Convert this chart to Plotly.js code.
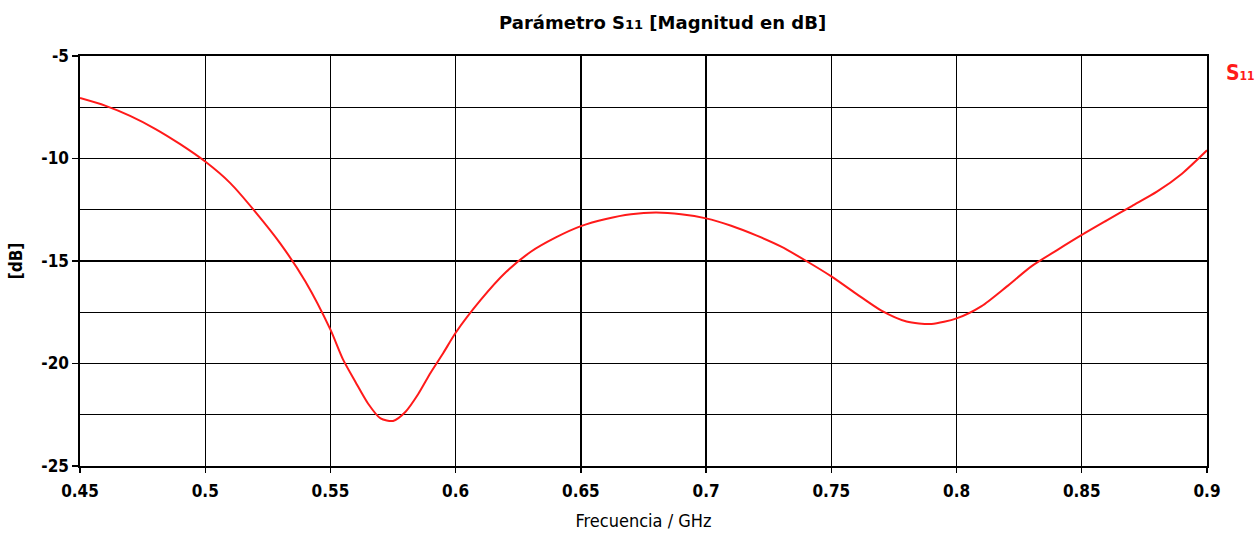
<!DOCTYPE html>
<html>
<head>
<meta charset="utf-8">
<script src="https://cdn.plot.ly/plotly-3.0.1.min.js"></script>
<style>html,body{margin:0;padding:0;background:#fff;}#chart{width:1258px;height:535px;}</style>
</head>
<body>
<div id="chart"></div>
<script>
// Frequency (GHz)
const freq = [0.45, 0.46, 0.47, 0.48, 0.49, 0.50, 0.51, 0.52, 0.53, 0.54, 0.55, 0.555, 0.56, 0.565, 0.57, 0.575, 0.58, 0.585, 0.59, 0.595, 0.60, 0.61, 0.62, 0.63, 0.64, 0.65, 0.66, 0.67, 0.68, 0.69, 0.70, 0.71, 0.72, 0.73, 0.74, 0.75, 0.76, 0.77, 0.78, 0.79, 0.80, 0.81, 0.82, 0.83, 0.84, 0.85, 0.86, 0.87, 0.88, 0.89, 0.90];
// S11 magnitude (dB)
const s11 = [-7.05, -7.42, -7.92, -8.55, -9.3, -10.15, -11.2, -12.6, -14.15, -16.0, -18.35, -19.8, -20.9, -21.95, -22.68, -22.8, -22.35, -21.5, -20.45, -19.5, -18.5, -16.9, -15.55, -14.55, -13.85, -13.3, -12.95, -12.72, -12.64, -12.72, -12.92, -13.28, -13.75, -14.3, -15.0, -15.75, -16.6, -17.42, -17.95, -18.07, -17.8, -17.2, -16.25, -15.25, -14.48, -13.73, -13.02, -12.32, -11.62, -10.74, -9.6];
const xTicks = [0.45, 0.5, 0.55, 0.6, 0.65, 0.7, 0.75, 0.8, 0.85, 0.9];
const xTickText = ['0.45', '0.5', '0.55', '0.6', '0.65', '0.7', '0.75', '0.8', '0.85', '0.9'];
const yTicks = [-25, -20, -15, -10, -5];
const yTickText = ['-25', '-20', '-15', '-10', '-5'];

const FONT = '"DejaVu Sans Condensed", "DejaVu Sans", sans-serif';
const TFONT = '"DejaVu Sans", sans-serif';
const GRID = '#000';

const trace = {
  x: freq, y: s11, type: 'scatter', mode: 'lines', name: 'S11',
  line: {color: '#ff1a1a', width: 2, shape: 'spline', smoothing: 0.7},
  showlegend: false, hoverinfo: 'x+y'
};

const layout = {
  width: 1258, height: 535,
  margin: {l: 80, r: 51, t: 56, b: 69},
  paper_bgcolor: '#fff', plot_bgcolor: '#fff',
  font: {family: FONT, color: '#000'},
  title: {
    text: '<b>Parámetro S<span style="font-size:13px">11</span> [Magnitud en dB]</b>',
    font: {family: TFONT, size: 18, color: '#000'},
    x: 0.517, xanchor: 'center', xref: 'paper', y: 0.957, yanchor: 'middle'
  },
  xaxis: {
    range: [0.45, 0.9], tickvals: xTicks, ticktext: xTickText,
    showgrid: true, gridcolor: GRID, gridwidth: 1.4,
    showline: true, linecolor: '#000', linewidth: 1.6, mirror: true,
    ticks: 'outside', ticklen: 5, tickcolor: '#000', tickwidth: 1.4,
    ticklabelstandoff: 4,
    tickfont: {family: FONT, size: 17, color: '#000', weight: 'bold'},
    zeroline: false,
    title: {text: 'Frecuencia / GHz', font: {family: FONT, size: 18, color: '#000'}, standoff: 14}
  },
  yaxis: {
    range: [-25, -5], tickvals: yTicks, ticktext: yTickText,
    showgrid: true, gridcolor: GRID, gridwidth: 1.4,
    minor: {dtick: 2.5, tick0: -25, showgrid: true, gridcolor: GRID, gridwidth: 1.4, ticks: ''},
    showline: true, linecolor: '#000', linewidth: 1.6, mirror: true,
    ticks: 'outside', ticklen: 6, tickcolor: '#000', tickwidth: 1.4,
    tickfont: {family: FONT, size: 17, color: '#000', weight: 'bold'},
    zeroline: false,
    title: {text: '<b>[dB]</b>', font: {family: FONT, size: 17, color: '#000'}, standoff: 14}
  },
  annotations: [{
    xref: 'paper', yref: 'paper', x: 1.0155, y: 0.958, xanchor: 'left', yanchor: 'middle',
    text: '<b>S<span style="font-size:12px">11</span></b>', showarrow: false,
    font: {family: FONT, size: 21, color: '#ff1a1a'}
  }]
};

Plotly.newPlot('chart', [trace], layout, {displayModeBar: false, staticPlot: true});
</script>
</body>
</html>
